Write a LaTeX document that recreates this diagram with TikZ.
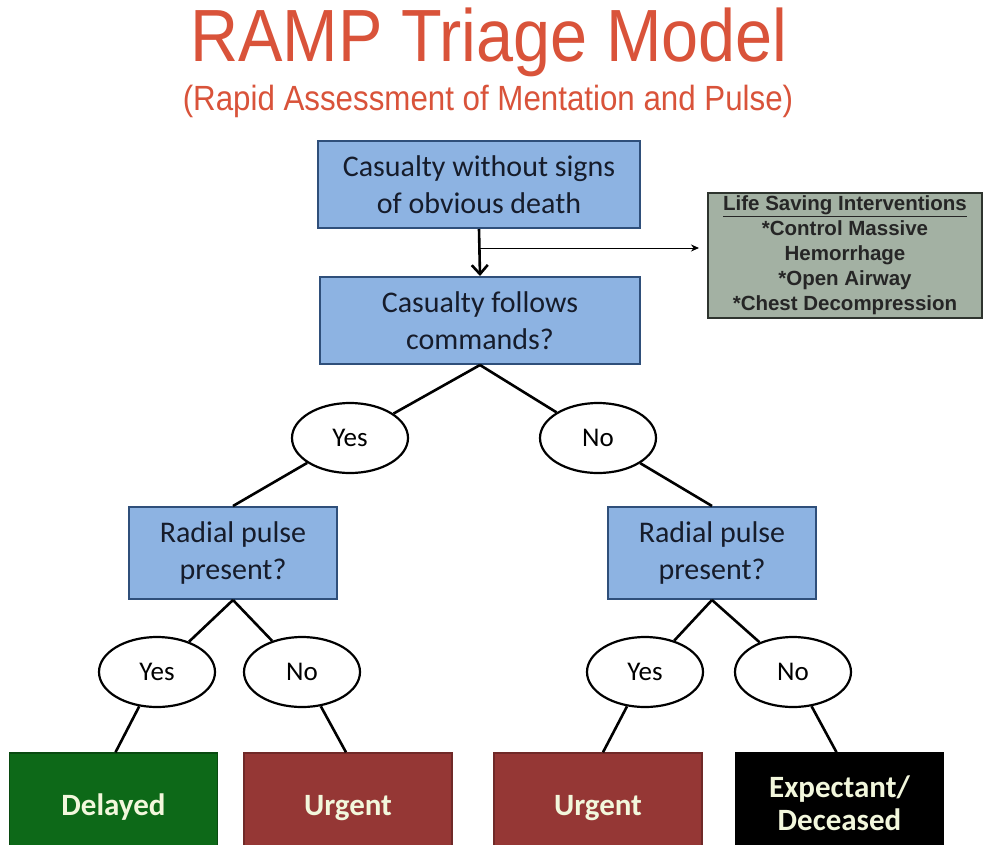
\documentclass[tikz,border=0pt]{standalone}
\usepackage{fontspec}
\setmainfont{Carlito}
\newfontfamily\arialfont{Liberation Sans}
\usetikzlibrary{shapes.geometric,arrows.meta}
\definecolor{titlered}{HTML}{D9533A}
\definecolor{qfill}{HTML}{8DB3E2}
\definecolor{qdraw}{HTML}{2F4F7A}
\definecolor{qtext}{HTML}{161C2B}
\definecolor{lsifill}{HTML}{A3B1A3}
\definecolor{lsidraw}{HTML}{2E342E}
\definecolor{outtext}{HTML}{F2F7DC}
\definecolor{delgreen}{HTML}{0D6918}
\definecolor{urgred}{HTML}{953735}
\tikzset{
  question/.style={draw=qdraw, line width=2pt, fill=qfill, text=qtext,
    align=center, font=\fontsize{30}{37}\selectfont, inner sep=0pt},
  answer/.style={ellipse, draw=black, line width=2.2pt, fill=white,
    minimum width=116pt, minimum height=70pt, inner sep=0pt,
    font=\fontsize{27}{30}\selectfont},
  outcome/.style={line width=1.5pt, text=outtext, align=center,
    font=\bfseries\fontsize{31}{36}\selectfont, inner sep=0pt,
    minimum width=208pt, minimum height=110pt},
  link/.style={line width=2.6pt, black},
}
\begin{document}
\begin{tikzpicture}[x=1pt, y=-1pt]
\useasboundingbox[fill=white] (0,0) rectangle (985,844);
\clip (0,0) rectangle (985,844);

% title
\node[text=titlered, font=\arialfont\fontsize{74}{80}\selectfont, xscale=0.9] (title) at (489,42) {RAMP Triage Model};
\node[text=titlered, font=\arialfont\fontsize{35}{40}\selectfont, xscale=0.894] (subtitle) at (488,101) {(Rapid Assessment of Mentation and Pulse)};

% question boxes
\node[question, minimum width=322pt, minimum height=87pt] (q1) at (479,184.5) {Casualty without signs\\of obvious death};
\node[question, minimum width=320pt, minimum height=87pt] (q2) at (480,320.5) {Casualty follows\\commands?};
\node[question, minimum width=208pt, minimum height=92pt] (rl) at (233,553) {Radial pulse\\present?};
\node[question, minimum width=208pt, minimum height=92pt] (rr) at (712,553) {Radial pulse\\present?};

% life saving interventions
\node[draw=lsidraw, line width=2pt, fill=lsifill, minimum width=274pt, minimum height=125pt, inner sep=0pt,
  align=center, font=\arialfont\bfseries\fontsize{20.5}{25}\selectfont, text=black!85] (lsi) at (845,255.5)
  {\underline{Life Saving Interventions}\\*Control Massive\\Hemorrhage\\*Open Airway\\*Chest Decompression};

% answers
\node[answer] (a1y) at (350,438) {Yes};
\node[answer] (a1n) at (598,438) {No};
\node[answer] (a2y) at (157,672) {Yes};
\node[answer] (a2n) at (302,672) {No};
\node[answer] (a3y) at (645,672) {Yes};
\node[answer] (a3n) at (793,672) {No};

% outcomes
\node[outcome, fill=delgreen, draw=delgreen!70!black] (o1) at (113.5,808) {\raisebox{6pt}{Delayed}};
\node[outcome, fill=urgred, draw=urgred!75!black] (o2) at (348,808) {\raisebox{6pt}{Urgent}};
\node[outcome, fill=urgred, draw=urgred!75!black] (o3) at (598,808) {\raisebox{6pt}{Urgent}};
\node[outcome, fill=black, draw=black] (o4) at (839.5,808) {\raisebox{10pt}{\shortstack{Expectant/\\[3pt]Deceased}}};

% connectors
\draw[link, -{Straight Barb[length=9pt, width=16pt, line width=2.6pt]}] (q1.south) -- (q2.north);
\coordinate (br) at (480,248);
\draw[line width=1pt, -{Stealth[length=8pt, width=7pt]}] (br) -- ([xshift=-8pt]lsi.west |- br);
\draw[link] (q2.south) -- (a1y);
\draw[link] (q2.south) -- (a1n);
\draw[link] (a1y) -- (rl.north);
\draw[link] (a1n) -- (rr.north);
\draw[link] (rl.south) -- (a2y);
\draw[link] (rl.south) -- (a2n);
\draw[link] (rr.south) -- (a3y);
\draw[link] (rr.south) -- (a3n);
\draw[link] (a2y) -- ([xshift=2pt]o1.north);
\draw[link] (a2n) -- ([xshift=-2pt]o2.north);
\draw[link] (a3y) -- ([xshift=5pt]o3.north);
\draw[link] (a3n) -- ([xshift=-3pt]o4.north);
\end{tikzpicture}
\end{document}
